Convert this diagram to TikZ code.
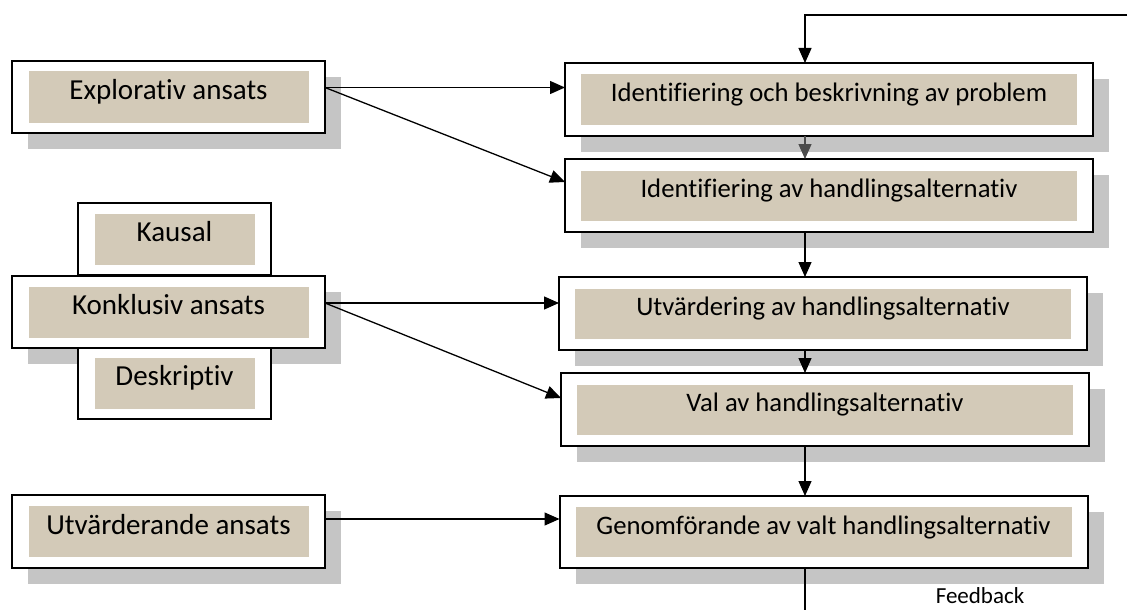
\documentclass[tikz,border=0pt]{standalone}
\usepackage{fontspec}
\setmainfont{Carlito}[Ligatures=NoCommon]
\usetikzlibrary{arrows.meta}
\definecolor{boxtan}{RGB}{211,202,184}
\definecolor{shadegray}{RGB}{197,197,197}
\pgfdeclarelayer{shade}
\pgfsetlayers{shade,main}

% grey drop shadow behind a framed box
\newcommand\boxshade[1]{%
  \begin{pgfonlayer}{shade}
    \fill[shadegray] ([shift={(16pt,-16pt)}]#1.south west) rectangle ([shift={(16pt,-16pt)}]#1.north east);
  \end{pgfonlayer}}

\begin{document}
\begin{tikzpicture}[x=1pt,y=-1pt,
  frame/.style={draw=black, line width=2pt, fill=white, inner sep=0pt, outer sep=0pt},
  panel/.style={fill=boxtan, inner sep=0pt, outer sep=0pt},
  leftpanel/.style={panel, minimum height=51pt, text height=28pt, text depth=23pt,
    font=\fontsize{29}{30}\selectfont},
  rightpanel/.style={panel, minimum width=496pt, minimum height=50pt, text height=27pt, text depth=23pt,
    font=\fontsize{26.7}{28}\selectfont},
  conn/.style={line width=1.3pt, -{Triangle[length=15pt,width=13pt]}},
]
\useasboundingbox (0,0) rectangle (1130,610);

% ---- process steps (right column)
\node[frame, minimum width=528pt, minimum height=73pt] (b1) at (829,99.5) {};
\node[rightpanel] (p1) at (b1.center) {Identifiering och beskrivning av problem};
\node[frame, minimum width=528pt, minimum height=73pt] (b2) at (829,195.5) {};
\node[rightpanel] (p2) at (b2.center) {Identifiering av handlingsalternativ};
\node[frame, minimum width=528pt, minimum height=73pt] (b3) at (823,313.5) {};
\node[rightpanel] (p3) at (b3.center) {Utvärdering av handlingsalternativ};
\node[frame, minimum width=528pt, minimum height=73pt] (b4) at (825,409.5) {};
\node[rightpanel] (p4) at (b4.center) {Val av handlingsalternativ};
\node[frame, minimum width=528pt, minimum height=72pt] (b5) at (823.5,532) {};
\node[rightpanel] (p5) at (b5.center) {Genomförande av valt handlingsalternativ};

% ---- approaches (left column)
\node[frame, minimum width=313pt, minimum height=72pt] (expl) at (168.5,97) {};
\node[leftpanel, minimum width=280pt] (pe) at (expl.center) {Explorativ ansats};

\node[frame, minimum width=193pt, minimum height=72pt] (kaus) at (174.5,239) {};
\node[leftpanel, minimum width=160pt] (pk) at (kaus.center) {Kausal};
\node[frame, minimum width=193pt, minimum height=72pt] (desk) at (174.5,383) {};
\node[leftpanel, minimum width=160pt] (pd) at (desk.center) {Deskriptiv};

\node[frame, minimum width=313pt, minimum height=72pt] (konk) at (168.5,312) {};
\node[leftpanel, minimum width=280pt] (pko) at (konk.center) {Konklusiv ansats};

\node[frame, minimum width=313pt, minimum height=73pt] (utv) at (168.5,531.5) {};
\node[leftpanel, minimum width=280pt] (pu) at (utv.center) {Utvärderande ansats};

% ---- shadows
\boxshade{b1}\boxshade{b2}\boxshade{b3}\boxshade{b4}\boxshade{b5}
\boxshade{expl}\boxshade{konk}\boxshade{utv}

% ---- connectors from the approaches
\draw[conn] ([yshift=9.5pt]expl.east) -- ([yshift=12pt]b1.west);
\draw[conn] ([yshift=9.5pt]expl.east) -- ([yshift=13.5pt]b2.west);
\draw[conn] ([yshift=9pt]konk.east) -- ([yshift=10.5pt]b3.west);
\draw[conn] ([yshift=9pt]konk.east) -- ([yshift=11.5pt]b4.west);
\draw[conn] ([yshift=12.5pt]utv.east) -- ([yshift=13pt]b5.west);

% ---- flow between the steps and the feedback loop
\coordinate (fbtop) at (1127,15);
\coordinate (fbbot) at (805,612);
\draw[conn] (fbtop) -| ([xshift=-24pt]b1.north);
\draw[conn, black!70] ([xshift=-24pt]b1.south) -- ([xshift=-24pt]b2.north);
\draw[conn] ([xshift=-24pt]b2.south) -- ([xshift=-18pt]b3.north);
\draw[conn] ([xshift=-18pt]b3.south) -- ([xshift=-20pt]b4.north);
\draw[conn] ([xshift=-20pt]b4.south) -- ([xshift=-18.5pt]b5.north);
\draw[line width=1.3pt] ([xshift=-18.5pt]b5.south) -- (fbbot);
\node[font=\fontsize{23}{24}\selectfont, anchor=base] (fb) at (980,603) {Feedback};
\end{tikzpicture}
\end{document}
